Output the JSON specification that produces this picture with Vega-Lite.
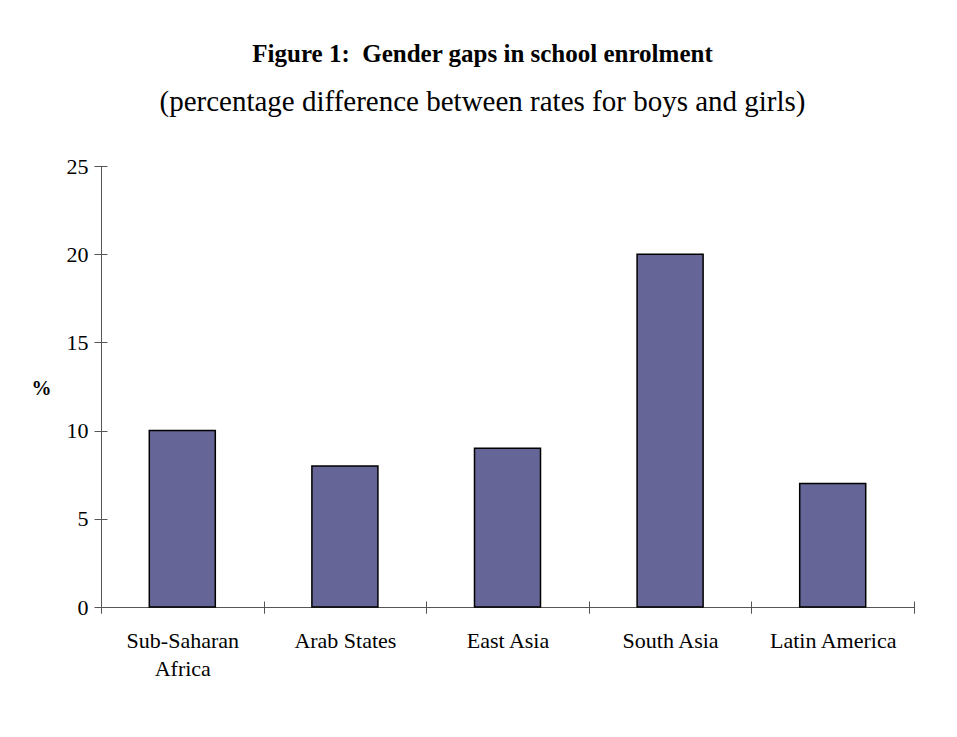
{
  "$schema": "https://vega.github.io/schema/vega-lite/v6.json",
  "width": 813,
  "height": 441,
  "autosize": {"type": "none"},
  "padding": {"left": 101, "top": 166, "right": 43, "bottom": 130},
  "background": "white",
  "config": {"view": {"stroke": null}, "font": "Liberation Serif"},
  "title": {
    "text": "Figure 1:\u00a0 Gender gaps in school enrolment",
    "subtitle": "(percentage difference between rates for boys and girls)",
    "anchor": "middle",
    "frame": "group",
    "dx": -25,
    "offset": 38,
    "font": "Liberation Serif",
    "fontSize": 25,
    "fontWeight": "bold",
    "color": "black",
    "subtitleFont": "Liberation Serif",
    "subtitleFontSize": 29,
    "subtitleColor": "black",
    "subtitlePadding": 21
  },
  "data": {
    "values": [
      {"region": "Sub-Saharan Africa", "gap": 10},
      {"region": "Arab States", "gap": 8},
      {"region": "East Asia", "gap": 9},
      {"region": "South Asia", "gap": 20},
      {"region": "Latin America", "gap": 7}
    ]
  },
  "layer": [
    {
      "mark": {"type": "bar", "fill": "#656597", "stroke": "black", "strokeWidth": 1.5, "width": {"band": 0.406}},
      "encoding": {
        "x": {
          "field": "region", "type": "nominal", "sort": null,
          "scale": {"paddingInner": 0, "paddingOuter": 0},
          "axis": {
            "orient": "bottom", "title": null, "labelAngle": 0,
            "tickBand": "extent", "tickSize": 6, "tickColor": "#555", "domainColor": "#555",
            "labelFont": "Liberation Serif", "labelFontSize": 22, "labelColor": "black",
            "labelPadding": 17, "labelLineHeight": 28,
            "labelExpr": "datum.label == 'Sub-Saharan Africa' ? ['Sub-Saharan', 'Africa'] : datum.label"
          }
        },
        "y": {
          "field": "gap", "type": "quantitative",
          "scale": {"domain": [0, 25], "nice": false},
          "axis": {
            "orient": "left", "values": [0, 5, 10, 15, 20, 25], "grid": false,
            "tickSize": 7, "tickColor": "#555", "domainColor": "#555",
            "labelFont": "Liberation Serif", "labelFontSize": 22, "labelColor": "black", "labelPadding": 6,
            "title": "%", "titleAngle": 0, "titleFont": "Liberation Serif", "titleFontSize": 20,
            "titleFontWeight": "bold", "titleColor": "black", "titleX": -50, "titleY": 222,
            "titleAlign": "right", "titleBaseline": "middle"
          }
        }
      }
    },
    {
      "mark": {"type": "bar", "opacity": 0, "width": {"band": 0.406}},
      "encoding": {
        "x": {
          "field": "region", "type": "nominal", "sort": null,
          "axis": {"orient": "bottom", "title": null, "labels": false, "domain": false, "tickBand": "extent", "tickSize": 12, "offset": -6, "tickColor": "#555"}
        },
        "y": {
          "field": "gap", "type": "quantitative",
          "axis": {"orient": "left", "title": null, "labels": false, "domain": false, "grid": false, "values": [0, 5, 10, 15, 20, 25], "tickSize": 12, "offset": -6, "tickColor": "#555"}
        }
      }
    }
  ],
  "resolve": {"axis": {"x": "independent", "y": "independent"}}
}
